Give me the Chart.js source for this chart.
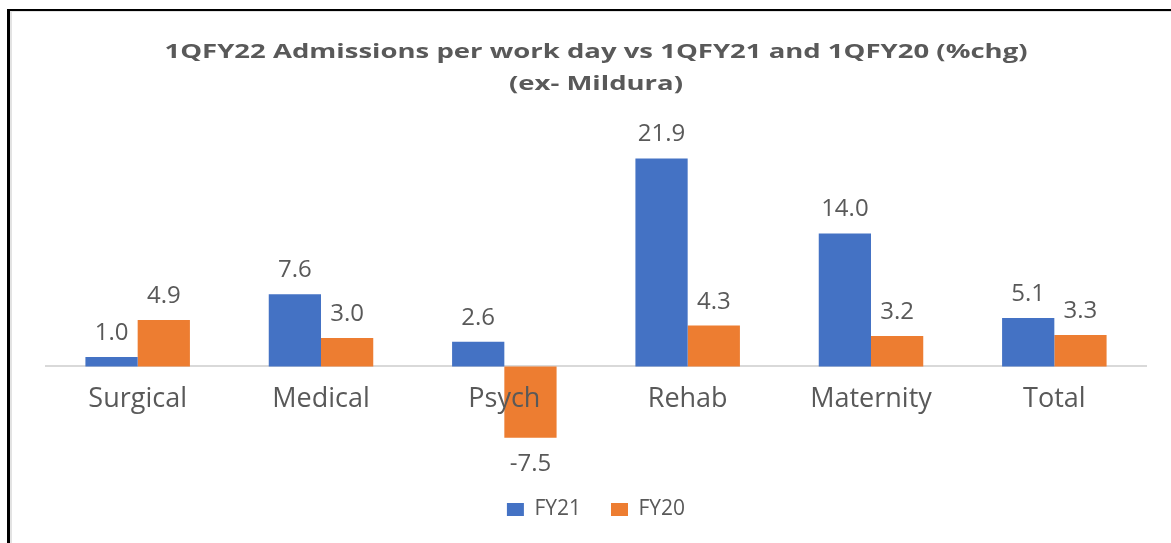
<!DOCTYPE html>
<html>
<head>
<meta charset="utf-8">
<script src="https://cdn.jsdelivr.net/npm/chart.js@4.4.0/dist/chart.umd.min.js"></script>
<style>
  html, body { margin: 0; padding: 0; background: #fff; overflow: hidden; }
  #wrap { position: relative; width: 1171px; height: 543px; }
  #frame {
    position: absolute; left: 7px; top: 9px; width: 1300px; height: 700px;
    border-top: 2px solid #000; border-left: 3px solid #000;
    box-shadow: inset 2px 1px 0 #e3e3e3;
    pointer-events: none;
  }
  canvas { position: absolute; left: 0; top: 0; }
</style>
</head>
<body>
<div id="wrap">
  <canvas id="chart" width="1171" height="543"></canvas>
  <div id="frame"></div>
</div>
<script>
// ========================================
// DATA
// ========================================
const categories = ['Surgical', 'Medical', 'Psych', 'Rehab', 'Maternity', 'Total'];
const fy21 = [1.0, 7.6, 2.6, 21.9, 14.0, 5.1];
const fy20 = [4.9, 3.0, -7.5, 4.3, 3.2, 3.3];
const seriesNames = ['FY21', 'FY20'];
const titleLines = ['1QFY22 Admissions per work day vs 1QFY21 and 1QFY20 (%chg)', '(ex- Mildura)'];

const TEXT = '#595959';

// ========================================
// TITLE (drawn a bit wider, like the original picture)
// ========================================
const wideTitle = {
    id: 'wideTitle',
    afterDraw(chart) {
        const ctx = chart.ctx;
        const cx = (chart.chartArea.left + chart.chartArea.right) / 2;
        ctx.save();
        ctx.font = 'bold 19px "Open Sans"';
        ctx.fillStyle = TEXT;
        ctx.textAlign = 'center';
        ctx.textBaseline = 'middle';
        const sx = 863 / ctx.measureText(titleLines[0]).width;
        titleLines.forEach((line, i) => {
            ctx.save();
            ctx.translate(cx, 53 + i * 32);
            ctx.scale(sx, 1);
            ctx.fillText(line, 0, 0);
            ctx.restore();
        });
        ctx.restore();
    }
};

// ========================================
// VALUE LABELS
// ========================================
const valueLabels = {
    id: 'valueLabels',
    afterDatasetsDraw(chart) {
        const ctx = chart.ctx;
        ctx.save();
        ctx.font = '24px "Open Sans"';
        ctx.fillStyle = TEXT;
        ctx.textAlign = 'center';
        ctx.textBaseline = 'alphabetic';
        chart.data.datasets.forEach((ds, i) => {
            chart.getDatasetMeta(i).data.forEach((bar, j) => {
                const v = ds.data[j];
                const txt = v.toFixed(1);
                if (v >= 0) {
                    ctx.fillText(txt, bar.x, bar.y - 17);
                } else {
                    ctx.fillText(txt, bar.x, bar.y + 33);
                }
            });
        });
        ctx.restore();
    }
};

new Chart(document.getElementById('chart'), {
    type: 'bar',
    data: {
        labels: categories,
        datasets: [
            { label: seriesNames[0], data: fy21, backgroundColor: '#4472C4' },
            { label: seriesNames[1], data: fy20, backgroundColor: '#ED7D31' }
        ]
    },
    options: {
        responsive: false,
        animation: false,
        devicePixelRatio: 1,
        layout: { padding: { left: 46, right: 25, top: 129, bottom: 13 } },
        datasets: {
            bar: { barPercentage: 1, categoryPercentage: 0.57 }
        },
        plugins: {
            title: { display: false },
            legend: {
                position: 'bottom',
                labels: {
                    color: TEXT,
                    font: { family: 'Open Sans', size: 21 },
                    boxWidth: 17,
                    boxHeight: 13,
                    padding: 30
                }
            },
            tooltip: { enabled: false }
        },
        scales: {
            y: { display: false, min: -10.8, max: 25 },
            x: {
                position: { y: 0 },
                grid: { display: false, drawTicks: false },
                border: { color: '#D9D9D9', width: 2 },
                ticks: {
                    z: 1,
                    color: TEXT,
                    font: { family: 'Open Sans', size: 27 },
                    padding: 17,
                    autoSkip: false,
                    maxRotation: 0
                }
            }
        }
    },
    plugins: [valueLabels, wideTitle]
});
</script>
</body>
</html>
